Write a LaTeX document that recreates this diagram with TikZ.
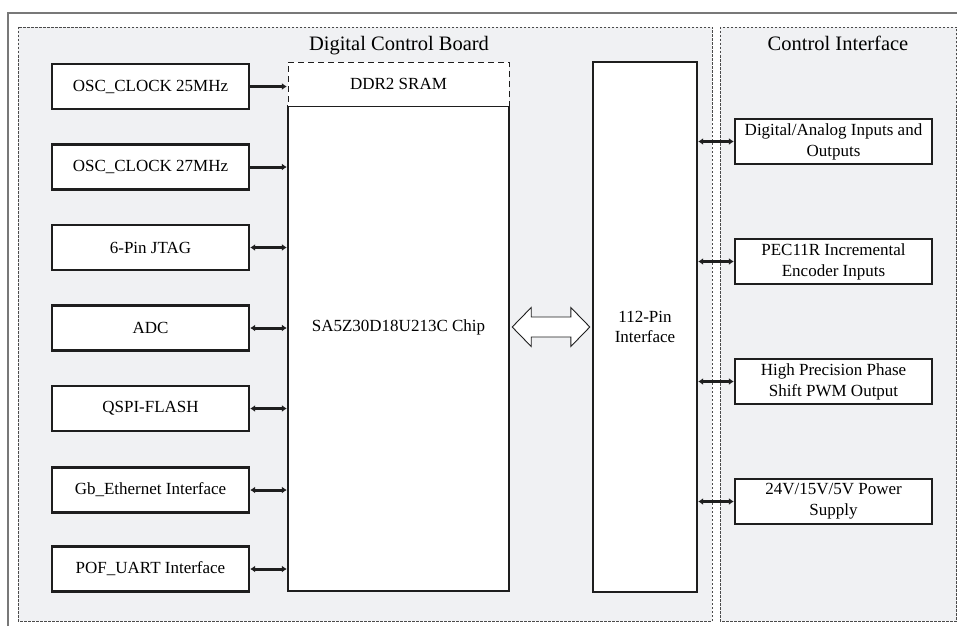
\documentclass[tikz,border=0pt]{standalone}
\usepackage{fontspec}
\setmainfont{Liberation Serif}
\usetikzlibrary{arrows.meta,calc}
\definecolor{panel}{RGB}{240,241,243}
\definecolor{ink}{RGB}{30,30,30}
\definecolor{frame}{RGB}{120,120,120}
\tikzset{
  panelbox/.style={draw=ink!80, fill=panel, line width=0.8pt, dash pattern=on 2.5pt off 1.5pt},
  blk/.style={draw=ink, fill=white, line width=2.4pt, minimum width=197pt, minimum height=45pt,
    inner sep=0pt, align=center, font=\fontsize{17}{21}\selectfont},
  conn/.style={draw=ink, line width=3pt, -{Latex[length=5pt,width=7pt]}},
  bconn/.style={draw=ink, line width=3pt, {Latex[length=5pt,width=7pt]}-{Latex[length=5pt,width=7pt]}},
  title/.style={anchor=base, font=\fontsize{20.5}{24}\selectfont},
  lbl/.style={align=center, font=\fontsize{17}{21}\selectfont, inner sep=0pt}
}
\begin{document}
\begin{tikzpicture}[x=1pt,y=-1pt]
\useasboundingbox (0,0) rectangle (957,626);
\fill[white] (0,0) rectangle (957,626);
% outer frame
\draw[frame, line width=1.2pt] (8,626) -- (8,13) -- (957,13);
% panels
\draw[panelbox] (18,27) rectangle (712,621);
\draw[panelbox] (720,27) rectangle (956.5,621);
\node[title] (t1) at (399,51) {Digital Control Board};
\node[title] (t2) at (838,51) {Control Interface};
% chip
\node[draw=ink, fill=white, line width=2.4pt, minimum width=221pt, minimum height=485pt, inner sep=0pt] (chip) at (398.5,348.5) {};
\node[draw=ink, fill=white, line width=1pt, dash pattern=on 6pt off 4pt, minimum width=221pt, minimum height=44pt, inner sep=0pt, font=\fontsize{17}{21}\selectfont] (ddr) at (398.5,84) {DDR2 SRAM};
\node[lbl] (chiplbl) at (398.5,327) {SA5Z30D18U213C Chip};
% 112-pin interface
\node[draw=ink, fill=white, line width=2.4pt, minimum width=104pt, minimum height=530pt, inner sep=0pt, align=center, font=\fontsize{17}{20}\selectfont] (pin) at (645,327) {112-Pin\\Interface};
% left blocks
\node[blk] (osc1) at (150.5,86.5) {OSC\_CLOCK 25MHz};
\node[blk] (osc2) at (150.5,167) {OSC\_CLOCK 27MHz};
\node[blk] (jtag) at (150.5,247.5) {6-Pin JTAG};
\node[blk] (adc) at (150.5,328) {ADC};
\node[blk] (qspi) at (150.5,408.5) {QSPI-FLASH};
\node[blk] (eth) at (150.5,490) {Gb\_Ethernet Interface};
\node[blk] (uart) at (150.5,569) {POF\_UART Interface};
% right blocks
\node[blk] (dio) at (833.5,141.5) {Digital/Analog Inputs and\\Outputs};
\node[blk] (enc) at (833.5,261.5) {PEC11R Incremental\\Encoder Inputs};
\node[blk] (pwm) at (833.5,381.5) {High Precision Phase\\Shift PWM Output};
\node[blk] (pwr) at (833.5,501.5) {24V/15V/5V Power\\Supply};
% left connectors
\draw[conn] (osc1.east) -- (chip.west |- osc1.east);
\draw[conn] (osc2.east) -- (chip.west |- osc2.east);
\draw[bconn] (jtag.east) -- (chip.west |- jtag.east);
\draw[bconn] (adc.east) -- (chip.west |- adc.east);
\draw[bconn] (qspi.east) -- (chip.west |- qspi.east);
\draw[bconn] (eth.east) -- (chip.west |- eth.east);
\draw[bconn] (uart.east) -- (chip.west |- uart.east);
% right connectors
\draw[bconn] (pin.east |- dio.west) -- (dio.west);
\draw[bconn] (pin.east |- enc.west) -- (enc.west);
\draw[bconn] (pin.east |- pwm.west) -- (pwm.west);
\draw[bconn] (pin.east |- pwr.west) -- (pwr.west);
% wide double arrow between chip and interface
\coordinate (al) at ($(chip.east |- chiplbl)+(2,0)$);
\coordinate (ar) at ($(pin.west)+(-2,0)$);
\draw[draw=ink, fill=white, line width=0.9pt]
  (al) -- ++(19,-19.5) -- ++(0,9.5) -- ($(ar)+(-19,-10)$) -- ++(0,-9.5) -- (ar)
  -- ++(-19,19.5) -- ++(0,-9.5) -- ($(al)+(19,10)$) -- ++(0,9.5) -- cycle;
\end{tikzpicture}
\end{document}
